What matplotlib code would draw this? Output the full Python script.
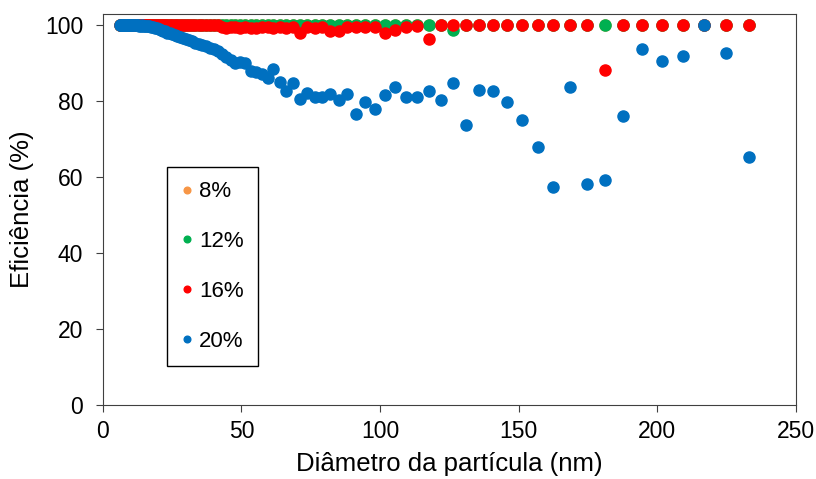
import matplotlib.pyplot as plt

plt.rcParams['font.family'] = ['Liberation Sans', 'DejaVu Sans']

# particle diameter bins (nm)
diametro = [6.15, 6.38, 6.61, 6.85, 7.10, 7.37, 7.64, 7.91, 8.20, 8.51,
            8.82, 9.14, 9.47, 9.82, 10.2, 10.6, 10.9, 11.3, 11.8, 12.2,
            12.6, 13.1, 13.6, 14.1, 14.6, 15.1, 15.7, 16.3, 16.8, 17.5,
            18.1, 18.8, 19.5, 20.2, 20.9, 21.7, 22.5, 23.3, 24.1, 25.0,
            25.9, 26.9, 27.9, 28.9, 30.0, 31.1, 32.2, 33.4, 34.6, 35.9,
            37.2, 38.5, 40.0, 41.4, 42.9, 44.5, 46.1, 47.8, 49.6, 51.4,
            53.3, 55.2, 57.3, 59.4, 61.5, 63.8, 66.1, 68.5, 71.0, 73.7,
            76.4, 79.1, 82.0, 85.1, 88.2, 91.4, 94.7, 98.2, 101.8, 105.5,
            109.4, 113.4, 117.6, 121.9, 126.3, 131.0, 135.8, 140.7, 145.9, 151.2,
            156.8, 162.5, 168.5, 174.7, 181.1, 187.7, 194.6, 201.7, 209.1, 216.7,
            224.7, 232.9]

ef_8 = [100.0] * len(diametro)

ef_12 = [100.0] * 84 + [98.7] + [100.0] * 17

ef_16 = [100.0] * 54 + [
    99.6, 99.4, 99.7, 99.5, 99.3, 99.6, 99.4, 99.2, 99.6, 99.5,
    99.3, 99.6, 99.4, 99.7, 97.9, 99.5, 99.4, 99.6, 98.6, 98.5,
    99.5, 99.6, 99.5, 99.6, 98.1, 98.9, 99.7, 99.8, 96.3, 100.0,
    100.0, 100.0, 100.0, 100.0, 100.0, 100.0, 100.0, 100.0, 100.0, 100.0,
    88.2, 100.0, 100.0, 100.0, 100.0, 100.0, 100.0, 100.0]

ef_20 = [100.0, 100.0, 100.0, 100.0, 100.0, 100.0, 100.0, 100.0, 100.0, 100.0,
         100.0, 100.0, 100.0, 100.0, 100.0, 100.0, 100.0, 100.0, 100.0, 100.0,
         100.0, 99.9, 99.9, 100.0, 99.9, 99.9, 99.8, 99.8, 99.8, 99.7,
         99.6, 99.4, 99.2, 99.0, 98.8, 98.6, 98.4, 98.1, 97.9, 97.7,
         97.5, 97.3, 97.0, 96.8, 96.4, 96.1, 95.9, 95.4, 95.0, 94.8,
         94.6, 94.1, 93.9, 93.2, 92.4, 91.6, 90.9, 90.2, 90.3, 90.2,
         88.0, 87.6, 87.3, 86.2, 88.6, 85.2, 82.8, 84.9, 80.6, 82.2,
         81.1, 81.1, 81.9, 80.3, 81.9, 76.6, 79.7, 78.0, 81.6, 83.7,
         81.2, 81.2, 82.7, 80.4, 84.7, 73.8, 83.0, 82.6, 79.7, 75.1,
         68.0, 57.4, 83.7, 58.1, 59.2, 76.2, 93.8, 90.6, 92.0, 100.0,
         92.8, 65.2]

series = [('8%', ef_8, '#F79646'),
          ('12%', ef_12, '#00B050'),
          ('16%', ef_16, '#FF0000'),
          ('20%', ef_20, '#0070C0')]

fig = plt.figure(figsize=(8.16, 4.79), dpi=100)
ax = fig.add_axes([0.126, 0.1545, 0.8495, 0.8163])

for nome, valores, cor in series:
    ax.plot(diametro, valores, 'o', color=cor, markersize=8, label=nome)

ax.set_xlim(0, 250)
ax.set_ylim(0, 103)
ax.set_xticks([0, 50, 100, 150, 200, 250])
ax.set_yticks([0, 20, 40, 60, 80, 100])
ax.tick_params(labelsize=16.5, direction='out', length=5, color='#404040')
ax.tick_params(axis='x', pad=6)
ax.tick_params(axis='y', pad=9)
for s in ax.spines.values():
    s.set_color('#404040')
ax.set_xlabel('Diâmetro da partícula (nm)', fontsize=18.5, labelpad=6)
ax.set_ylabel('Eficiência (%)', fontsize=18.5, labelpad=8)

leg = ax.legend(loc='upper left', bbox_to_anchor=(0.092, 0.609), fontsize=16,
                markerscale=0.6, handlelength=0.5, handletextpad=0.3,
                labelspacing=1.3, borderpad=0.65, borderaxespad=0,
                fancybox=False, framealpha=1, edgecolor='black')
leg.get_frame().set_linewidth(1)

fig.savefig('out.png', dpi=100)
